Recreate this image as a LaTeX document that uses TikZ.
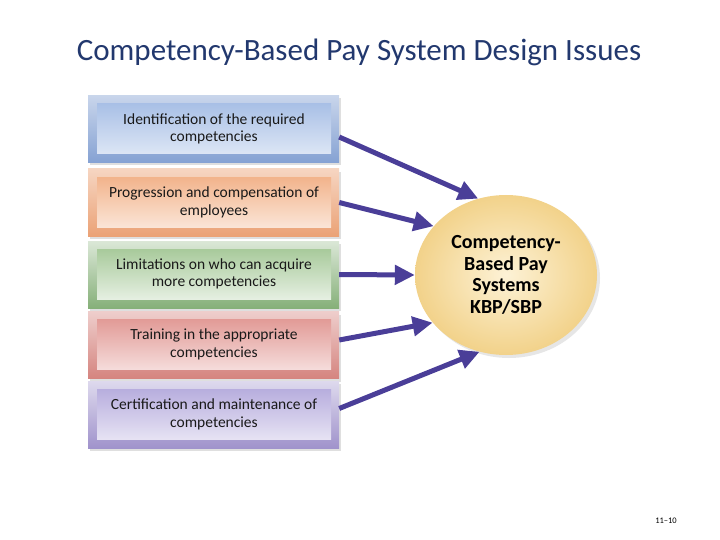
\documentclass[tikz,border=0pt]{standalone}
\usepackage{fontspec}
\setmainfont{Carlito}
\usetikzlibrary{shapes.geometric,shadows,arrows.meta}
\definecolor{titleblue}{HTML}{22386E}
\definecolor{feedpurple}{HTML}{4A3E98}
\definecolor{blueout}{HTML}{86A2D3}
\definecolor{bluein}{HTML}{A9C0E6}
\definecolor{orangeout}{HTML}{EBA276}
\definecolor{orangein}{HTML}{F2B48C}
\definecolor{greenout}{HTML}{86B079}
\definecolor{greenin}{HTML}{A8CA9B}
\definecolor{redout}{HTML}{D5847F}
\definecolor{redin}{HTML}{E29B97}
\definecolor{purpleout}{HTML}{A093CC}
\definecolor{purplein}{HTML}{B8AEDE}
\definecolor{kbpin}{HTML}{FDF2D6}
\definecolor{kbpout}{HTML}{F2D28A}
\tikzset{
  band/.style={minimum width=251pt,minimum height=67pt,inner sep=0pt,
    drop shadow={opacity=0.25,shadow xshift=2pt,shadow yshift=-3pt}},
  issue/.style={minimum width=234pt,minimum height=50pt,inner sep=0pt,align=center,
    font=\fontsize{15.5}{17.5}\selectfont,text=black!90},
  feed/.style={->,line width=5pt,draw=feedpurple},
}
\begin{document}
\begin{tikzpicture}[x=1pt,y=1pt,>={Triangle[length=20pt,width=19pt]}]
\useasboundingbox (0,0) rectangle (720,-540);
%%
\node (title) at (359,-52) [font=\fontsize{31}{36}\selectfont,text=titleblue] {Competency-Based Pay System Design Issues};
%
\node (band1) at (213.5,-129) [band,top color=blueout!45,bottom color=blueout] {};
\node (band2) at (213.5,-202.5) [band,top color=orangeout!45,bottom color=orangeout] {};
\node (band3) at (213.5,-274.5) [band,top color=greenout!30,bottom color=greenout] {};
\node (band4) at (213.5,-345) [band,top color=redout!40,bottom color=redout] {};
\node (band5) at (213.5,-414.5) [band,top color=purpleout!35,bottom color=purpleout] {};
%
\node (ident) at (214,-129) [issue,top color=bluein,bottom color=bluein!40] {Identification of the required\\competencies};
\node (progr) at (214,-202.5) [issue,top color=orangein,bottom color=orangein!35] {Progression and compensation of\\employees};
\node (limit) at (214,-274) [issue,top color=greenin,bottom color=greenin!30] {Limitations on who can acquire\\more competencies};
\node (train) at (214,-344.5) [issue,top color=redin,bottom color=redin!35] {Training in the appropriate\\competencies};
\node (certif) at (214,-414.5) [issue,top color=purplein,bottom color=purplein!35] {Certification and maintenance of\\competencies};
%
\node (kbp) at (506,-275) [ellipse,minimum width=182pt,minimum height=160pt,inner sep=0pt,
  inner color=kbpin,outer color=kbpout,
  drop shadow={opacity=0.2,shadow xshift=3pt,shadow yshift=-3pt},
  align=center,font=\fontsize{20}{21.5}\bfseries\selectfont] {Competency-\\Based Pay\\Systems\\KBP/SBP};
%
\draw [feed] ([yshift=-8pt]band1.east) -- (kbp.110);
\draw [feed] (band2.east) -- (kbp.146);
\draw [feed] (band3.east) -- (kbp.180);
\draw [feed] ([yshift=5pt]band4.east) -- (kbp.213);
\draw [feed] ([yshift=6pt]band5.east) -- (kbp.251);
%
\node (pageno) at (666,-521) [font=\fontsize{8.5}{10}\selectfont] {11--10};
\end{tikzpicture}
\end{document}
